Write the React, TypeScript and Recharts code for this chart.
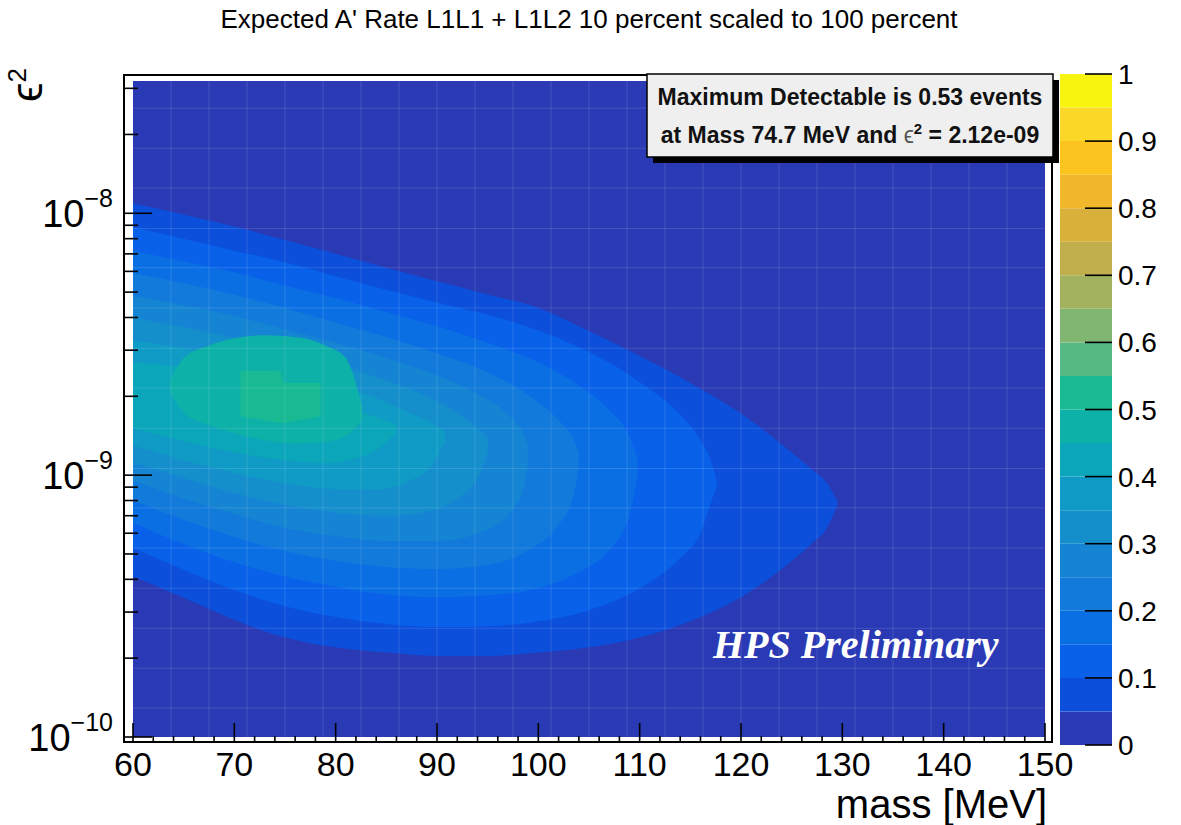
// HPS expected A' rate: filled contour map (mass vs eps^2) with a colour scale, drawn with Recharts.
import { Area, Bar, BarChart, CartesianGrid, ComposedChart, XAxis, YAxis } from 'recharts'

const FONT = '"Liberation Sans", Arial, Helvetica, sans-serif'

// contour edges: mass [MeV], lower / upper edge in eps^2
const l1Mass = [60, 65, 70, 75, 80, 85, 90, 95, 100, 105, 110, 115, 120, 125, 127, 128.5, 129.5]
const l1Upper = [1.09e-8, 9.9e-9, 8.9e-9, 7.9e-9, 7.0e-9, 6.2e-9, 5.5e-9, 4.9e-9, 4.35e-9, 3.55e-9, 2.85e-9, 2.25e-9, 1.72e-9, 1.22e-9, 1.05e-9, 9.3e-10, 8.0e-10]
const l1Lower = [4.1e-10, 3.4e-10, 2.8e-10, 2.4e-10, 2.2e-10, 2.1e-10, 2.04e-10, 2.04e-10, 2.1e-10, 2.2e-10, 2.4e-10, 2.77e-10, 3.42e-10, 4.7e-10, 5.5e-10, 6.3e-10, 7.7e-10]

const l2Mass = [60, 65, 70, 75, 80, 85, 90, 95, 100, 105, 110, 114, 116, 117.3, 117.6]
const l2Upper = [8.85e-9, 8.0e-9, 7.2e-9, 6.5e-9, 5.75e-9, 5.1e-9, 4.55e-9, 4.1e-9, 3.57e-9, 2.95e-9, 2.27e-9, 1.7e-9, 1.36e-9, 1.05e-9, 9.4e-10]
const l2Lower = [5.27e-10, 4.35e-10, 3.64e-10, 3.16e-10, 2.87e-10, 2.7e-10, 2.63e-10, 2.65e-10, 2.77e-10, 3.05e-10, 3.7e-10, 4.83e-10, 6.0e-10, 8.4e-10, 8.95e-10]

const l3Mass = [60, 65, 70, 75, 80, 85, 90, 95, 100, 104, 107, 109, 109.8]
const l3Upper = [7.2e-9, 6.55e-9, 5.95e-9, 5.3e-9, 4.75e-9, 4.2e-9, 3.7e-9, 3.2e-9, 2.7e-9, 2.2e-9, 1.77e-9, 1.4e-9, 1.14e-9]
const l3Lower = [6.6e-10, 5.45e-10, 4.65e-10, 4.1e-10, 3.75e-10, 3.5e-10, 3.42e-10, 3.48e-10, 3.7e-10, 4.27e-10, 5.17e-10, 7.05e-10, 1.0e-9]

const l4Mass = [60, 65, 70, 75, 80, 85, 90, 95, 99, 102, 103.5, 104]
const l4Upper = [5.9e-9, 5.4e-9, 4.88e-9, 4.35e-9, 3.83e-9, 3.37e-9, 2.92e-9, 2.47e-9, 2.02e-9, 1.62e-9, 1.36e-9, 1.22e-9]
const l4Lower = [8.0e-10, 6.75e-10, 5.8e-10, 5.13e-10, 4.7e-10, 4.46e-10, 4.38e-10, 4.53e-10, 5.17e-10, 6.45e-10, 8.4e-10, 1.09e-9]

const l5Mass = [60, 65, 70, 75, 80, 85, 90, 94, 97, 98.5, 99]
const l5Upper = [4.83e-9, 4.45e-9, 4.05e-9, 3.6e-9, 3.2e-9, 2.8e-9, 2.4e-9, 2.04e-9, 1.7e-9, 1.45e-9, 1.3e-9]
const l5Lower = [9.55e-10, 8.17e-10, 7.1e-10, 6.3e-10, 5.85e-10, 5.6e-10, 5.6e-10, 6.0e-10, 7.05e-10, 8.75e-10, 1.12e-9]

const l6Mass = [60, 65, 70, 75, 80, 85, 89, 92, 94, 95]
const l6Upper = [3.98e-9, 3.67e-9, 3.33e-9, 3.0e-9, 2.65e-9, 2.3e-9, 2.0e-9, 1.72e-9, 1.51e-9, 1.38e-9]
const l6Lower = [1.12e-9, 9.75e-10, 8.55e-10, 7.7e-10, 7.2e-10, 7.0e-10, 7.25e-10, 8.17e-10, 9.75e-10, 1.22e-9]

const l7Mass = [60, 65, 70, 75, 80, 84, 87, 89.5, 90.8]
const l7Upper = [3.27e-9, 3.05e-9, 2.77e-9, 2.5e-9, 2.2e-9, 1.97e-9, 1.75e-9, 1.58e-9, 1.46e-9]
const l7Lower = [1.3e-9, 1.14e-9, 1.02e-9, 9.3e-10, 8.85e-10, 8.8e-10, 9.4e-10, 1.09e-9, 1.34e-9]

const l8Mass = [60, 65, 70, 75, 79, 82, 84.5, 86]
const l8Upper = [2.7e-9, 2.58e-9, 2.37e-9, 2.13e-9, 1.93e-9, 1.77e-9, 1.64e-9, 1.55e-9]
const l8Lower = [1.51e-9, 1.35e-9, 1.22e-9, 1.14e-9, 1.11e-9, 1.16e-9, 1.28e-9, 1.46e-9]

const l9Mass = [63.7, 65, 67.5, 70, 73, 76, 79, 81, 82.6]
const l9Upper = [2.3e-9, 2.8e-9, 3.13e-9, 3.33e-9, 3.42e-9, 3.37e-9, 3.13e-9, 2.8e-9, 1.85e-9]
const l9Lower = [2.07e-9, 1.74e-9, 1.55e-9, 1.45e-9, 1.36e-9, 1.32e-9, 1.34e-9, 1.41e-9, 1.62e-9]

const l10Mass = [70.6, 74.5, 74.9, 78.5]
const l10Upper = [2.5e-9, 2.5e-9, 2.25e-9, 2.25e-9]
const l10Lower = [1.68e-9, 1.58e-9, 1.58e-9, 1.68e-9]

// colour of each 0.05 band, bottom (0) to top (1)
const levelColors = [
  '#2a3ab5', '#0c4fdb', '#0861e8', '#0b6fe4', '#117ada', '#1585d3', '#148fcc', '#0f9bc5', '#0ba6ba', '#0db1a7',
  '#18b993', '#56b983', '#80b672', '#a2b25f', '#c1ae4c', '#d9b03a', '#f0b82a', '#fcc41e', '#fbd827', '#f8f40f',
]
const zEdges = [0, 0.05, 0.1, 0.15, 0.2, 0.25, 0.3, 0.35, 0.4, 0.45, 0.5, 0.55, 0.6, 0.65, 0.7, 0.75, 0.8, 0.85, 0.9, 0.95, 1]
const zTicks = [0, 0.1, 0.2, 0.3, 0.4, 0.5, 0.6, 0.7, 0.8, 0.9, 1]
const zTickLabels = ['0', '0.1', '0.2', '0.3', '0.4', '0.5', '0.6', '0.7', '0.8', '0.9', '1']

const massTicks = [60, 62, 64, 66, 68, 70, 72, 74, 76, 78, 80, 82, 84, 86, 88, 90, 92, 94, 96, 98, 100, 102, 104, 106, 108, 110,
  112, 114, 116, 118, 120, 122, 124, 126, 128, 130, 132, 134, 136, 138, 140, 142, 144, 146, 148, 150]
const massLabels = [60, 70, 80, 90, 100, 110, 120, 130, 140, 150]
const epsTicks = [1e-10, 2e-10, 3e-10, 4e-10, 5e-10, 6e-10, 7e-10, 8e-10, 9e-10, 1e-9, 2e-9, 3e-9, 4e-9, 5e-9, 6e-9, 7e-9, 8e-9, 9e-9, 1e-8, 2e-8, 3e-8]
const epsMajor = [1e-10, 1e-9, 1e-8]
const epsMajorExp = ['\u221210', '\u22129', '\u22128']

// faint bin seams visible across the map
const binMass = [63.75, 67.5, 71.25, 75, 78.75, 82.5, 86.25, 90, 93.75, 97.5, 101.25, 105, 108.75, 112.5, 116.25, 120, 123.75, 127.5, 131.25, 135, 138.75, 142.5, 146.25]
const binEps = [2.52e-8, 1.77e-8, 1.25e-8, 8.75e-9, 6.2e-9, 4.35e-9, 3.05e-9, 2.15e-9, 1.51e-9, 1.06e-9, 7.5e-10, 5.27e-10, 3.7e-10, 2.6e-10, 1.83e-10, 1.29e-10]

const levels = [
  [l1Mass, l1Lower, l1Upper],
  [l2Mass, l2Lower, l2Upper],
  [l3Mass, l3Lower, l3Upper],
  [l4Mass, l4Lower, l4Upper],
  [l5Mass, l5Lower, l5Upper],
  [l6Mass, l6Lower, l6Upper],
  [l7Mass, l7Lower, l7Upper],
  [l8Mass, l8Lower, l8Upper],
  [l9Mass, l9Lower, l9Upper],
  [l10Mass, l10Lower, l10Upper],
].map(([mass, lower, upper]) => mass.map((m, i) => ({ m, range: [lower[i], upper[i]] })))

const zRow: Record<string, number | string> = { name: 'z' }
zEdges.slice(1).forEach((e, i) => {
  zRow[`b${i}`] = e - zEdges[i]
})

function MassTick({ x, y, payload }: any) {
  const v = payload.value
  const major = massLabels.includes(v)
  const fy = y + 6
  return (
    <g>
      <line x1={x} x2={x} y1={fy} y2={fy - (major ? 20 : 7)} stroke="#000" strokeWidth={1.6} />
      {major && (
        <text x={x} y={y + 39} textAnchor="middle" fontFamily={FONT} fontSize={34} fill="#000">
          {v}
        </text>
      )}
    </g>
  )
}

function EpsTick({ x, y, payload }: any) {
  const k = epsMajor.indexOf(payload.value)
  const fx = x - 10
  return (
    <g>
      <line x1={fx} x2={fx + (k >= 0 ? 29 : 15)} y1={y} y2={y} stroke="#000" strokeWidth={1.6} />
      {k >= 0 && (
        <text x={x - 20} y={y + 14} textAnchor="end" fontFamily={FONT} fontSize={38} fill="#000">
          10
          <tspan dy={-20} fontSize={25}>
            {epsMajorExp[k]}
          </tspan>
        </text>
      )}
    </g>
  )
}

function ZTick({ x, y, index }: any) {
  return (
    <g>
      <line x1={x - 27} x2={x} y1={y} y2={y} stroke="#000" strokeWidth={1.6} />
      <text x={x + 6} y={y + 10} fontFamily={FONT} fontSize={28} fill="#000">
        {zTickLabels[index]}
      </text>
    </g>
  )
}

export default function App() {
  return (
    <div style={{ position: 'absolute', left: 0, top: 0, width: 1181, height: 825, background: '#fff', overflow: 'hidden' }}>
      <div style={{ position: 'absolute', left: 0, top: 0 }}>
        <ComposedChart width={1100} height={800} margin={{ top: 81, right: 55, bottom: 0, left: 0 }}>
          <CartesianGrid fill={levelColors[0]} fillOpacity={1} horizontal={false} vertical={false} />
          {levels.map((rows, i) => (
            <Area
              key={i}
              data={rows}
              dataKey="range"
              type={i === 9 ? 'linear' : 'monotone'}
              fill={levelColors[i + 1]}
              fillOpacity={1}
              stroke="none"
              dot={false}
              activeDot={false}
              isAnimationActive={false}
            />
          ))}
          <CartesianGrid
            stroke="#ffffff"
            strokeOpacity={0.13}
            strokeWidth={1}
            verticalValues={binMass}
            horizontalValues={binEps}
            zIndex={600}
          />
          <XAxis
            dataKey="m"
            type="number"
            domain={[60, 150]}
            ticks={massTicks}
            interval={0}
            height={63}
            tickSize={0}
            tickMargin={0}
            axisLine={false}
            tickLine={false}
            tick={<MassTick />}
            allowDataOverflow
          />
          <YAxis
            type="number"
            scale="log"
            domain={[1e-10, 3.2e-8]}
            ticks={epsTicks}
            interval={0}
            width={133}
            tickSize={0}
            tickMargin={0}
            axisLine={false}
            tickLine={false}
            tick={<EpsTick />}
            allowDataOverflow
          />
        </ComposedChart>
      </div>

      <div style={{ position: 'absolute', left: 1060, top: 0 }}>
        <BarChart width={121} height={790} data={[zRow]} margin={{ top: 74, right: 0, bottom: 45, left: 0 }} barCategoryGap={0}>
          <XAxis dataKey="name" hide />
          {zEdges.slice(1).map((_, i) => (
            <Bar key={i} dataKey={`b${i}`} stackId="z" fill={levelColors[i]} isAnimationActive={false} />
          ))}
          <YAxis
            orientation="right"
            type="number"
            width={69}
            domain={[0, 1]}
            ticks={zTicks}
            interval={0}
            tickSize={0}
            tickMargin={0}
            axisLine={false}
            tickLine={false}
            tick={<ZTick />}
            allowDataOverflow
          />
        </BarChart>
      </div>

      <div
        style={{
          position: 'absolute',
          left: 123,
          top: 74,
          width: 930,
          height: 669,
          border: '2px solid #000',
          boxSizing: 'border-box',
          pointerEvents: 'none',
        }}
      />

      <svg width={1181} height={825} style={{ position: 'absolute', left: 0, top: 0, pointerEvents: 'none' }}>
        <text x={589} y={28} textAnchor="middle" fontFamily={FONT} fontSize={26} fill="#000">
          Expected A' Rate L1L1 + L1L2 10 percent scaled to 100 percent
        </text>
        <text transform="translate(42,68) rotate(-90)" textAnchor="end" fontFamily={FONT} fontSize={44} fill="#000">
          {'\u03f5'}
          <tspan dy={-16} fontSize={26}>
            2
          </tspan>
        </text>
        <text x={1047} y={818} textAnchor="end" fontFamily={FONT} fontSize={40} fill="#000">
          mass [MeV]
        </text>
        <text x={713} y={658} fontFamily='"Liberation Serif", "Times New Roman", serif' fontWeight="bold" fontStyle="italic" fontSize={40} fill="#fff">
          HPS Preliminary
        </text>

        <rect x={653} y={80} width={406} height={83} fill="#000" />
        <rect x={647} y={74} width={406} height={83} fill="#efefef" stroke="#000" strokeWidth={1.5} />
        <text x={850} y={105} textAnchor="middle" fontFamily={FONT} fontWeight="bold" fontSize={23} fill="#111">
          Maximum Detectable is 0.53 events
        </text>
        <text x={850} y={143} textAnchor="middle" fontFamily={FONT} fontWeight="bold" fontSize={23} fill="#111">
          at Mass 74.7 MeV and{' '}
          <tspan fontWeight="normal" fill="#555">
            {'\u03f5'}
          </tspan>
          <tspan dy={-9} fontSize={15}>
            2
          </tspan>
          <tspan dy={9}> = 2.12e-09</tspan>
        </text>
      </svg>
    </div>
  )
}
